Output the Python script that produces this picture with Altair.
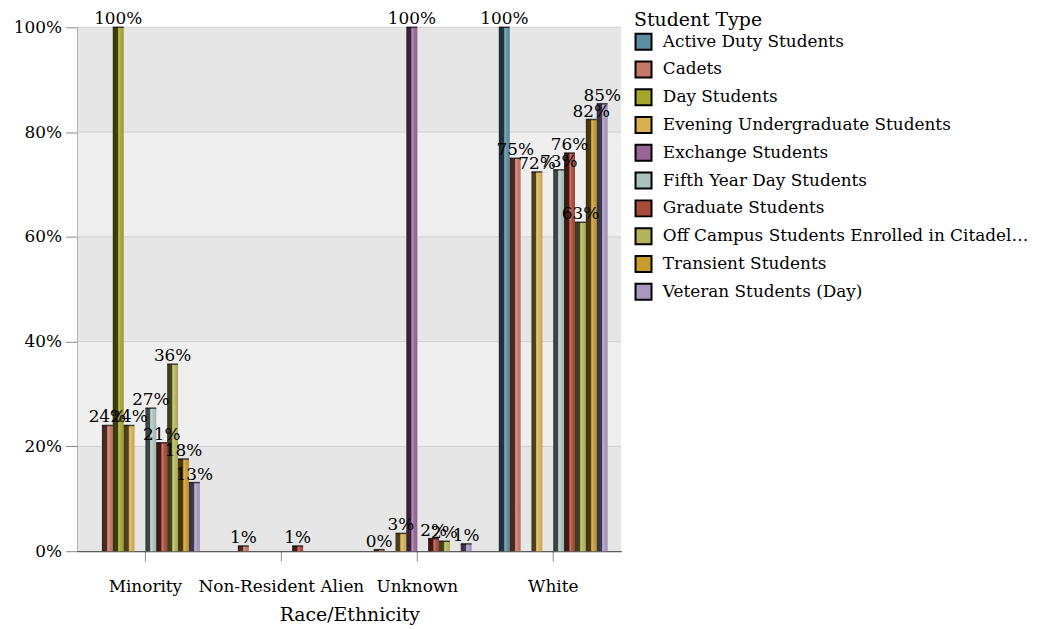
import altair as alt
import pandas as pd

categories = ["Minority", "Non-Resident Alien", "Unknown", "White"]
student_types = [
    "Active Duty Students",
    "Cadets",
    "Day Students",
    "Evening Undergraduate Students",
    "Exchange Students",
    "Fifth Year Day Students",
    "Graduate Students",
    "Off Campus Students Enrolled in Citadel Graduate College",
    "Transient Students",
    "Veteran Students (Day)",
]
colors = ["#5b8ea3", "#c67765", "#a6a62c", "#d8b052", "#976596",
          "#aac2be", "#a94b3b", "#b4b45c", "#c99a2c", "#a898c2"]

# share of each student type by race/ethnicity (None = no bar)
active_duty = [None, None, None, 1.00]
cadets = [0.240, 0.010, 0.003, 0.750]
day_students = [1.00, None, None, None]
evening = [0.240, None, 0.034, 0.724]
exchange = [None, None, 1.00, None]
fifth_year = [0.273, None, None, 0.728]
graduate = [0.207, 0.010, 0.024, 0.760]
off_campus = [0.357, None, 0.019, 0.628]
transient = [0.176, None, None, 0.824]
veteran = [0.131, None, 0.014, 0.854]

series = [active_duty, cadets, day_students, evening, exchange,
          fifth_year, graduate, off_campus, transient, veteran]

rows = []
for stype, vals in zip(student_types, series):
    for cat, v in zip(categories, vals):
        if v is not None:
            rows.append({"Race/Ethnicity": cat, "Student Type": stype, "Share": v})
df = pd.DataFrame(rows)

band_lo = [0.0, 0.2, 0.4, 0.6, 0.8]
band_hi = [0.2, 0.4, 0.6, 0.8, 1.0]
band_shade = ["d", "l", "d", "l", "d"]
bands = pd.DataFrame({"lo": band_lo, "hi": band_hi, "shade": band_shade})

FONT = "DejaVu Serif"

x_enc = alt.X("Race/Ethnicity:N", sort=categories, title="Race/Ethnicity",
              scale=alt.Scale(paddingInner=0.2, paddingOuter=0.1),
              axis=alt.Axis(labelAngle=0, tickSize=10, tickColor="#888888",
                            domainColor="#000000", labelPadding=18, titlePadding=11))
xo_enc = alt.XOffset("Student Type:N", sort=student_types,
                     scale=alt.Scale(domain=student_types, paddingInner=0, paddingOuter=0))
y_enc = alt.Y("Share:Q", title=None,
              scale=alt.Scale(domain=[0, 1], nice=False),
              axis=alt.Axis(format=".0%", values=[0, 0.2, 0.4, 0.6, 0.8, 1.0],
                            tickSize=12, tickColor="#888888", domainColor="#000000",
                            grid=False, labelPadding=4))

bg = alt.Chart(bands).mark_rect().encode(
    y=alt.Y("lo:Q", scale=alt.Scale(domain=[0, 1], nice=False)),
    y2="hi:Q",
    color=alt.Color("shade:N", scale=alt.Scale(domain=["d", "l"], range=["#e6e6e6", "#efefef"]), legend=None),
)
grid = alt.Chart(bands).mark_rule(color="#cfcfcf", strokeWidth=1).encode(
    y=alt.Y("hi:Q", scale=alt.Scale(domain=[0, 1], nice=False)),
)

base = alt.Chart(df)

bars = base.mark_bar().encode(
    x=x_enc, xOffset=xo_enc, y=y_enc,
    color=alt.Color("Student Type:N", sort=student_types,
                    scale=alt.Scale(domain=student_types, range=colors),
                    legend=alt.Legend(title="Student Type", orient="none",
                                      legendX=561, legendY=-16)),
)

shade = alt.LinearGradient(
    gradient="linear", x1=0, x2=1, y1=0, y2=0,
    stops=[
        alt.GradientStop(offset=0, color="rgba(0,0,0,0.68)"),
        alt.GradientStop(offset=0.44, color="rgba(0,0,0,0.62)"),
        alt.GradientStop(offset=0.46, color="rgba(0,0,0,0)"),
        alt.GradientStop(offset=0.56, color="rgba(255,255,255,0.28)"),
        alt.GradientStop(offset=0.72, color="rgba(255,255,255,0.04)"),
        alt.GradientStop(offset=1, color="rgba(0,0,0,0.1)"),
    ],
)
overlay = base.mark_bar(fill=shade).encode(x=x_enc, xOffset=xo_enc, y=y_enc)

tops = base.mark_tick(color="#000000", thickness=1.5, size=11, orient="horizontal").encode(
    x=x_enc, xOffset=xo_enc, y=y_enc)

labels = base.mark_text(baseline="bottom", dy=1, fontSize=17, font=FONT, color="#000000").encode(
    x=x_enc, xOffset=xo_enc, y=y_enc,
    text=alt.Text("Share:Q", format=".0%"),
)

chart = alt.layer(bg, grid, bars, overlay, tops, labels).resolve_scale(color="independent").properties(
    width=548, height=528,
    padding={"left": 5, "top": 0, "right": 0, "bottom": 5},
).configure_view(stroke=None).configure_axis(
    labelFont=FONT, titleFont=FONT, labelFontSize=17, titleFontSize=19,
    labelColor="#000000", titleColor="#000000", titleFontWeight="normal",
).configure_legend(
    titleFont=FONT, labelFont=FONT, titleFontSize=19, labelFontSize=17,
    titleFontWeight="normal", titleColor="#000000", labelColor="#000000",
    symbolType="square", symbolSize=260, symbolStrokeColor="#000000",
    symbolStrokeWidth=2, symbolOpacity=1, rowPadding=3, labelLimit=372,
    titlePadding=2, labelOffset=10,
)

chart.save("out.html", embed_options={"renderer": "svg", "actions": False})
